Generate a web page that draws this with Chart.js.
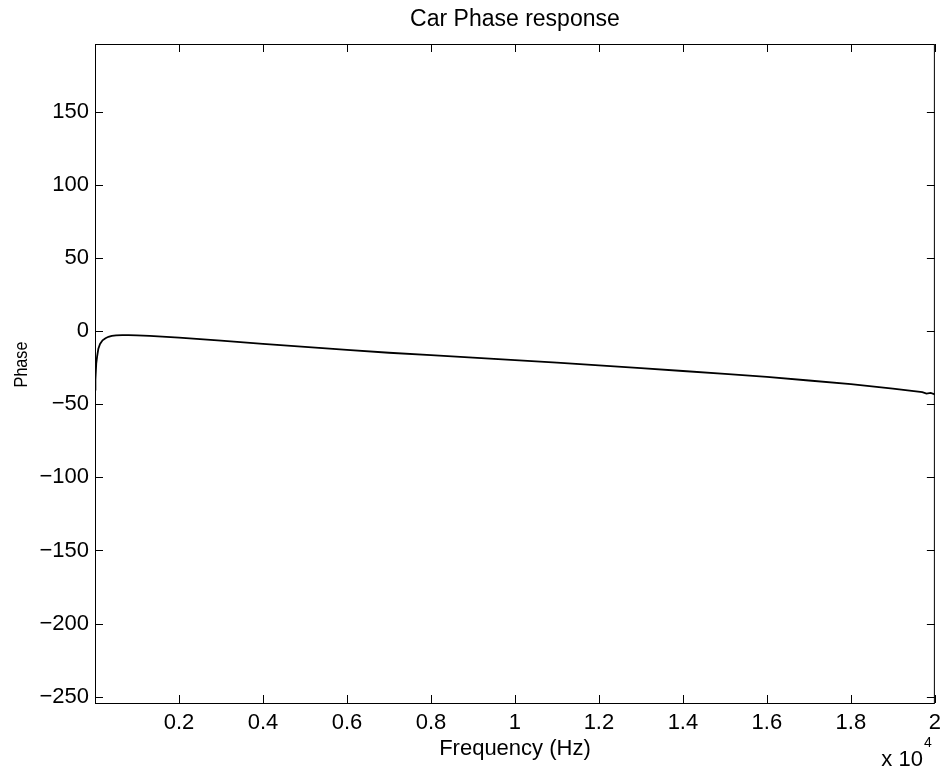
<!DOCTYPE html>
<html>
<head>
<meta charset="utf-8">
<title>Car Phase response</title>
<script src="https://cdn.jsdelivr.net/npm/chart.js@4.4.1/dist/chart.umd.min.js"></script>
<style>
  html, body { margin: 0; padding: 0; background: #fff; }
  canvas { display: block; }
</style>
</head>
<body>
<canvas id="phaseChart" width="948" height="773"></canvas>
<script>
// Frequency in units of 10^4 Hz, phase in degrees
const freqs = [0.0002, 0.001, 0.003, 0.005, 0.008, 0.012, 0.018, 0.025, 0.032, 0.04,
               0.05, 0.065, 0.08, 0.1, 0.13, 0.2, 0.3, 0.4, 0.5, 0.6,
               0.7, 0.8, 0.9, 1.0, 1.1, 1.2, 1.3, 1.4, 1.5, 1.6,
               1.7, 1.8, 1.9, 1.95, 1.97, 1.98, 1.99, 2.0];
const phases = [-40, -33, -22, -17.5, -12, -8.8, -6.3, -4.9, -3.9, -3.3,
                -2.9, -2.7, -2.8, -3.0, -3.3, -4.5, -6.5, -8.8, -10.8, -12.8,
                -14.8, -16.5, -18.2, -19.8, -21.5, -23.4, -25.3, -27.3, -29.3, -31.3,
                -33.8, -36.3, -39.3, -41, -41.8, -42.8, -42.3, -43.3];

const xTickValues = [0.2, 0.4, 0.6, 0.8, 1, 1.2, 1.4, 1.6, 1.8, 2];
const yTickValues = [-250, -200, -150, -100, -50, 0, 50, 100, 150];

const chartTitle = 'Car Phase response';
const xLabel = 'Frequency (Hz)';
const yLabel = 'Phase';

const FONT = '"Liberation Sans", Arial, Helvetica, sans-serif';

// Build point list for the scatter/line dataset
const points = freqs.map((f, i) => ({ x: f, y: phases[i] }));

// Format tick numbers the way the original shows them
function formatTick(v) {
    const s = String(Math.round(v * 10) / 10);
    return s.replace('-', '\u2212');
}

// Frame, inward tick marks and the texts around the axes
const framePlugin = {
    id: 'frame',
    afterDraw(chart) {
        const ctx = chart.ctx;
        const area = chart.chartArea;
        const xs = chart.scales.x;
        const ys = chart.scales.y;
        const tickLen = 8;

        ctx.save();
        ctx.strokeStyle = '#000';
        ctx.lineWidth = 1;
        ctx.strokeRect(area.left + 0.5, area.top + 0.5, area.right - area.left - 1, area.bottom - area.top);

        ctx.beginPath();
        xTickValues.forEach(v => {
            const px = Math.round(xs.getPixelForValue(v)) + 0.5;
            ctx.moveTo(px, area.bottom);
            ctx.lineTo(px, area.bottom - tickLen);
            ctx.moveTo(px, area.top);
            ctx.lineTo(px, area.top + tickLen);
        });
        yTickValues.forEach(v => {
            const py = Math.round(ys.getPixelForValue(v)) + 0.5;
            ctx.moveTo(area.left, py);
            ctx.lineTo(area.left + tickLen, py);
            ctx.moveTo(area.right, py);
            ctx.lineTo(area.right - tickLen, py);
        });
        ctx.stroke();

        ctx.fillStyle = '#000';
        const cx = (area.left + area.right) / 2;

        // title
        ctx.font = '23px ' + FONT;
        ctx.textAlign = 'center';
        ctx.textBaseline = 'alphabetic';
        ctx.fillText(chartTitle, cx, area.top - 18);

        // x label
        ctx.font = '22px ' + FONT;
        ctx.fillText(xLabel, cx, area.bottom + 52);

        // exponent note
        ctx.textAlign = 'right';
        ctx.fillText('x 10', area.right - 12, area.bottom + 63);
        ctx.font = '14px ' + FONT;
        ctx.textAlign = 'left';
        ctx.fillText('4', area.right - 11, area.bottom + 44);

        // y label (slightly narrow in the original)
        ctx.font = '19px ' + FONT;
        ctx.translate(27, (area.top + area.bottom) / 2 - 9);
        ctx.rotate(-Math.PI / 2);
        ctx.scale(0.85, 1);
        ctx.textAlign = 'center';
        ctx.fillText(yLabel, 0, 0);
        ctx.restore();
    }
};

const ctx = document.getElementById('phaseChart').getContext('2d');

new Chart(ctx, {
    type: 'scatter',
    data: {
        datasets: [{
            data: points,
            showLine: true,
            borderColor: '#000',
            borderWidth: 1.8,
            pointRadius: 0,
            tension: 0
        }]
    },
    options: {
        responsive: false,
        animation: false,
        layout: { padding: { top: 44, right: 10, left: 0, bottom: 0 } },
        plugins: {
            legend: { display: false },
            tooltip: { enabled: false },
            title: { display: false }
        },
        scales: {
            x: {
                type: 'linear',
                min: 0,
                max: 2,
                grid: { display: false, drawTicks: false },
                border: { display: false },
                ticks: {
                    color: '#000',
                    font: { size: 22, family: FONT },
                    padding: 7,
                    maxRotation: 0,
                    autoSkip: false,
                    callback: v => formatTick(v)
                },
                afterBuildTicks: scale => { scale.ticks = xTickValues.map(v => ({ value: v })); },
                afterFit: scale => { scale.height = 70; }
            },
            y: {
                type: 'linear',
                min: -254.3,
                max: 196.3,
                grid: { display: false, drawTicks: false },
                border: { display: false },
                ticks: {
                    color: '#000',
                    font: { size: 22, family: FONT },
                    padding: 6,
                    autoSkip: false,
                    callback: v => formatTick(v)
                },
                afterBuildTicks: scale => { scale.ticks = yTickValues.map(v => ({ value: v })); },
                afterFit: scale => { scale.width = 95; }
            }
        }
    },
    plugins: [framePlugin]
});
</script>
</body>
</html>
